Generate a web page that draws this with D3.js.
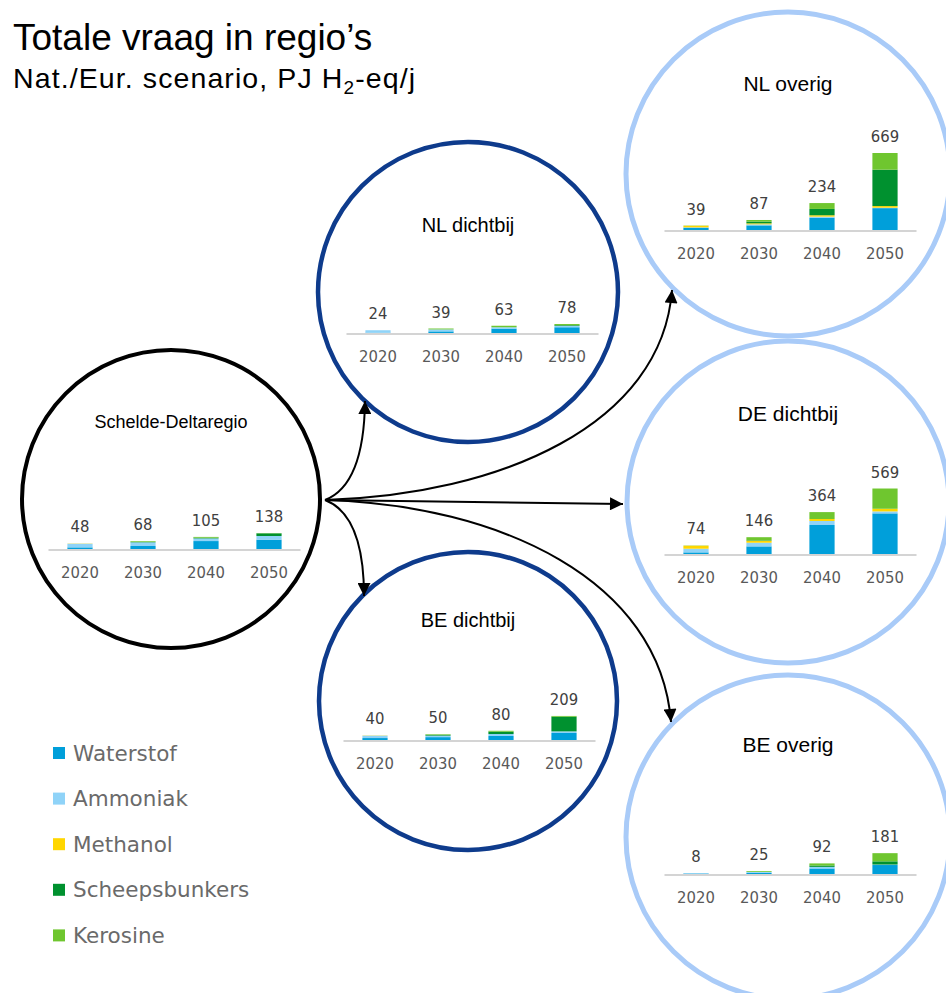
<!DOCTYPE html>
<html>
<head>
<meta charset="utf-8">
<script src="https://cdn.jsdelivr.net/npm/d3@7"></script>
<style>
  body { margin: 0; background: #fff; }
  svg { display: block; }
  .title { font-family: "Liberation Sans", Arial, sans-serif; fill: #000; }
  .region { font-family: "Liberation Sans", Arial, sans-serif; fill: #000; text-anchor: middle; }
  .val { font-family: "DejaVu Sans Condensed", "Open Sans", sans-serif; font-size: 16.5px; fill: #404040; text-anchor: middle; }
  .year { font-family: "DejaVu Sans Condensed", "Open Sans", sans-serif; font-size: 16.5px; fill: #595959; text-anchor: middle; }
  .legend text { font-family: "DejaVu Sans", sans-serif; font-size: 21.5px; fill: #6a6a6a; }
</style>
</head>
<body>
<div class="chart"></div>
<script>
const width  = 946;
const height = 993;

const years   = [ "2020", "2030", "2040", "2050" ];
const regions = [ "Schelde-Deltaregio", "NL dichtbij", "BE dichtbij", "NL overig", "DE dichtbij", "BE overig" ];
const series  = [ "Waterstof", "Ammoniak", "Methanol", "Scheepsbunkers", "Kerosine" ];
const colors  = [ "#009fda", "#8fd3f8", "#ffd600", "#00912f", "#6fc62f" ];

// one row per region (same order as regions), one value per year, PJ H2-eq/j
const waterstof = [
  [ 14, 26, 69, 81 ],
  [ 2, 14, 38, 50 ],
  [ 17, 25, 35, 61 ],
  [ 20, 40, 107, 190 ],
  [ 14, 66, 252, 353 ],
  [ 4, 10, 48, 78 ]
];
const ammoniak = [
  [ 32, 32, 23, 32 ],
  [ 22, 17, 12, 12 ],
  [ 21, 13, 17, 14 ],
  [ 3, 9, 9, 4 ],
  [ 32, 32, 35, 17 ],
  [ 4, 8, 14, 4 ]
];
const methanol = [
  [ 2, 0, 0, 0 ],
  [ 0, 0, 0, 0 ],
  [ 2, 0, 0, 0 ],
  [ 14, 9, 12, 14 ],
  [ 26, 18, 17, 23 ],
  [ 0, 0, 0, 0 ]
];
const scheepsbunkers = [
  [ 0, 4, 6, 23 ],
  [ 0, 0, 0, 6 ],
  [ 0, 7, 20, 127 ],
  [ 0, 14, 55, 316 ],
  [ 0, 4, 0, 0 ],
  [ 0, 0, 12, 28 ]
];
const kerosine = [
  [ 0, 6, 7, 2 ],
  [ 0, 8, 13, 10 ],
  [ 0, 5, 8, 7 ],
  [ 2, 15, 51, 145 ],
  [ 2, 26, 60, 176 ],
  [ 0, 7, 18, 71 ]
];
const seriesValues = [ waterstof, ammoniak, methanol, scheepsbunkers, kerosine ];

// layout of the bubbles (circle centre, radius, ring colour, chart origin)
const layout = [
  { cx: 171, cy: 499, r: 149, stroke: "#000000", sw: 4,   title: 428, fs: 18, x0: 48.5,  base: 549 },
  { cx: 468, cy: 292, r: 150, stroke: "#0e3b8c", sw: 4.5, title: 232, fs: 20, x0: 346.5, base: 333 },
  { cx: 468, cy: 701, r: 149, stroke: "#0e3b8c", sw: 4.5, title: 627, fs: 20, x0: 343.5, base: 740 },
  { cx: 788, cy: 174, r: 162, stroke: "#a9cbf8", sw: 5,   title: 91,  fs: 21, x0: 664.5, base: 230 },
  { cx: 788, cy: 502, r: 161, stroke: "#a9cbf8", sw: 5,   title: 421, fs: 21, x0: 664.5, base: 554 },
  { cx: 788, cy: 837, r: 162, stroke: "#a9cbf8", sw: 5,   title: 752, fs: 21, x0: 664.5, base: 874 }
];

const svg = d3.select( ".chart" )
  .append( "svg" )
    .attr( "width", width )
    .attr( "height", height );

svg.append( "defs" )
  .append( "marker" )
    .attr( "id", "head" )
    .attr( "viewBox", "0 0 10 10" )
    .attr( "refX", 10 )
    .attr( "refY", 5 )
    .attr( "markerUnits", "userSpaceOnUse" )
    .attr( "markerWidth", 15 )
    .attr( "markerHeight", 13 )
    .attr( "orient", "auto" )
  .append( "path" )
    .attr( "d", "M0,0 L10,5 L0,10 z" )
    .attr( "fill", "#000" );

// title
svg.append( "text" )
  .attr( "class", "title" )
  .attr( "x", 13 )
  .attr( "y", 50 )
  .attr( "font-size", 37 )
  .text( "Totale vraag in regio\u2019s" );

const sub = svg.append( "text" )
  .attr( "class", "title" )
  .attr( "x", 13 )
  .attr( "y", 88 )
  .attr( "font-size", 28.5 )
  .attr( "letter-spacing", 1.1 );
sub.append( "tspan" ).text( "Nat./Eur. scenario, PJ H" );
sub.append( "tspan" ).attr( "font-size", 19 ).attr( "dy", 6 ).text( "2" );
sub.append( "tspan" ).attr( "dy", -6 ).text( "-eq/j" );

// circles
svg.selectAll( "circle.bubble" )
  .data( layout )
  .enter()
    .append( "circle" )
    .attr( "class", "bubble" )
    .attr( "cx", d => d.cx )
    .attr( "cy", d => d.cy )
    .attr( "r", d => d.r )
    .attr( "fill", "none" )
    .attr( "stroke", d => d.stroke )
    .attr( "stroke-width", d => d.sw );

// arrows from the Schelde-Deltaregio
const arrows = [
  "M325,500 Q364,485 365,401",
  "M325,500 C500,495 662,425 672,290",
  "M325,500 L623,504",
  "M325,500 Q364,515 364,596",
  "M325,500 C500,505 660,580 671,722"
];
svg.selectAll( "path.arrow" )
  .data( arrows )
  .enter()
    .append( "path" )
    .attr( "class", "arrow" )
    .attr( "d", d => d )
    .attr( "fill", "none" )
    .attr( "stroke", "#000" )
    .attr( "stroke-width", 2 )
    .attr( "marker-end", "url(#head)" );

const yScale = d3.scaleLinear()
  .domain( [ 0, 669 ] )
  .range( [ 0, 77 ] );

const stack = d3.stack().keys( d3.range( series.length ) );

regions.forEach( function( name, i ) {
  const L = layout[ i ];
  const rows = years.map( ( y, j ) => {
    const o = { year: y };
    seriesValues.forEach( ( s, k ) => o[ k ] = s[ i ][ j ] );
    return o;
  } );
  const stacked = stack( rows );
  const totals = rows.map( r => d3.sum( seriesValues, ( s, k ) => r[ k ] ) );

  const xScale = d3.scaleBand()
    .domain( years )
    .range( [ L.x0, L.x0 + 252 ] )
    .paddingInner( 0.6 )
    .paddingOuter( 0.3 );

  const g = svg.append( "g" ).attr( "class", "region-chart" );

  g.append( "text" )
    .attr( "class", "region" )
    .attr( "x", L.cx )
    .attr( "y", L.title )
    .attr( "font-size", L.fs )
    .text( name );

  // axis line
  g.append( "line" )
    .attr( "x1", L.x0 )
    .attr( "x2", L.x0 + 252 )
    .attr( "y1", L.base + 1 )
    .attr( "y2", L.base + 1 )
    .attr( "stroke", "#d4d4d4" )
    .attr( "stroke-width", 2 );

  g.selectAll( "g.layer" )
    .data( stacked )
    .enter()
      .append( "g" )
      .attr( "class", "layer" )
      .attr( "fill", d => colors[ d.key ] )
    .selectAll( "rect" )
    .data( d => d )
    .enter()
      .append( "rect" )
      .attr( "x", d => xScale( d.data.year ) )
      .attr( "width", xScale.bandwidth() )
      .attr( "y", d => L.base - yScale( d[ 1 ] ) )
      .attr( "height", d => yScale( d[ 1 ] ) - yScale( d[ 0 ] ) );

  g.selectAll( "text.val" )
    .data( years )
    .enter()
      .append( "text" )
      .attr( "class", "val" )
      .attr( "x", d => xScale( d ) + xScale.bandwidth() / 2 )
      .attr( "y", ( d, j ) => L.base - yScale( totals[ j ] ) - 11 )
      .text( ( d, j ) => totals[ j ] );

  g.selectAll( "text.year" )
    .data( years )
    .enter()
      .append( "text" )
      .attr( "class", "year" )
      .attr( "x", d => xScale( d ) + xScale.bandwidth() / 2 )
      .attr( "y", L.base + 29 )
      .text( d => d );
} );

// legend
const legend = svg.append( "g" )
  .attr( "class", "legend" )
  .selectAll( "g" )
  .data( series )
  .enter()
    .append( "g" )
    .attr( "transform", ( d, i ) => `translate( 53, ${ 753 + i * 45.6 } )` );

legend.append( "rect" )
  .attr( "x", 0 )
  .attr( "y", -6 )
  .attr( "width", 12 )
  .attr( "height", 12 )
  .attr( "fill", ( d, i ) => colors[ i ] );

legend.append( "text" )
  .attr( "x", 20 )
  .attr( "y", 7.5 )
  .text( d => d );
</script>
</body>
</html>
